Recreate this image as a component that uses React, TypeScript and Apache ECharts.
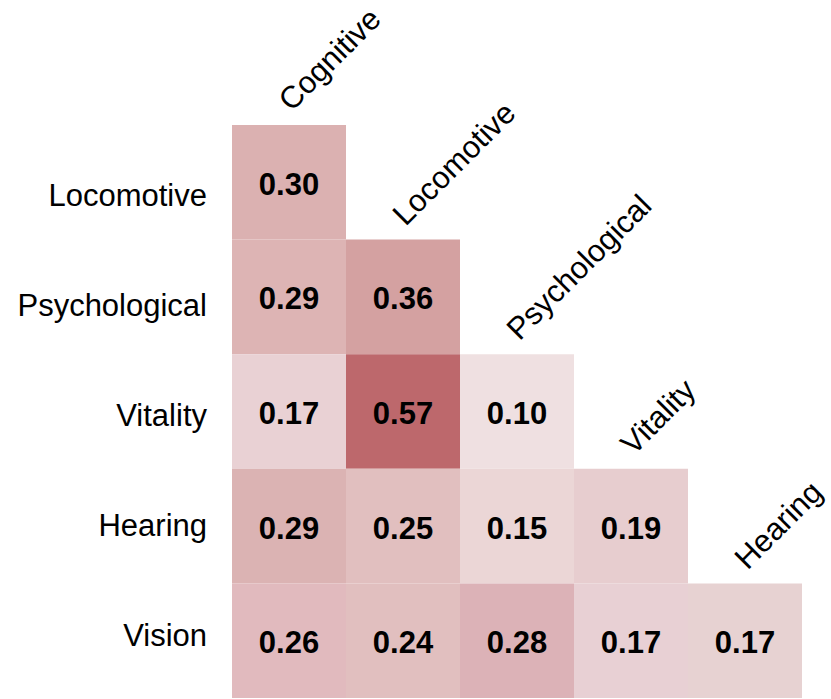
import React, { useEffect, useRef } from "react";
import * as echarts from "echarts";

const columns = ["Cognitive", "Locomotive", "Psychological", "Vitality", "Hearing"];
const rows = ["Locomotive", "Psychological", "Vitality", "Hearing", "Vision"];

const locomotiveRow = [0.3];
const psychologicalRow = [0.29, 0.36];
const vitalityRow = [0.17, 0.57, 0.1];
const hearingRow = [0.29, 0.25, 0.15, 0.19];
const visionRow = [0.26, 0.24, 0.28, 0.17, 0.17];
const rowValues = [locomotiveRow, psychologicalRow, vitalityRow, hearingRow, visionRow];

const cellColors = [
  ["#dbb1b1"],
  ["#ddb4b4", "#d4a1a1"],
  ["#e9d1d4", "#bd686c", "#efe0e1"],
  ["#dbb3b3", "#e1bfbf", "#ebd6d6", "#e7cdcf"],
  ["#e1babe", "#e1bfbf", "#dcb2b7", "#e8d0d4", "#e7d2d2"],
];

const FONT = '"Liberation Sans", Arial, Helvetica, sans-serif';

export default function App() {
  const ref = useRef<HTMLDivElement>(null);
  useEffect(() => {
    if (!ref.current) return;
    const chart = echarts.init(ref.current, null, { renderer: "svg" });
    const cellData: any[] = [];
    const cellFill: string[] = [];
    rowValues.forEach((vals, r) => {
      vals.forEach((v, c) => {
        cellData.push([c, r, v]);
        cellFill.push(cellColors[r][c]);
      });
    });
    const diagData = columns.map((_, j) => [j, j]);
    chart.setOption({
      animation: false,
      backgroundColor: "#ffffff",
      grid: [
        { left: 232, top: 125, width: 570, height: 573 },
        { left: 232, top: 140, width: 570, height: 551 },
      ],
      xAxis: [
        { type: "category", data: columns, gridIndex: 0, show: false },
        { type: "category", data: columns, gridIndex: 1, show: false },
      ],
      yAxis: [
        { type: "category", data: rows, gridIndex: 0, inverse: true, show: false },
        {
          type: "category",
          data: rows,
          gridIndex: 1,
          inverse: true,
          axisLine: { show: false },
          axisTick: { show: false },
          splitLine: { show: false },
          axisLabel: {
            margin: 25,
            color: "#000000",
            fontSize: 31,
            fontFamily: FONT,
          },
        },
      ],
      series: [
        {
          type: "custom",
          xAxisIndex: 0,
          yAxisIndex: 0,
          data: cellData,
          silent: true,
          renderItem: (params: any, api: any) => {
            const p = api.coord([api.value(0), api.value(1)]);
            const s = api.size([1, 1]);
            const v = api.value(2);
            return {
              type: "group",
              children: [
                {
                  type: "rect",
                  shape: { x: p[0] - s[0] / 2, y: p[1] - s[1] / 2, width: s[0], height: s[1] },
                  style: { fill: cellFill[params.dataIndex] },
                },
                {
                  type: "text",
                  x: p[0],
                  y: p[1] + 2,
                  style: {
                    text: v.toFixed(2),
                    fontSize: 31,
                    fontWeight: "bold",
                    fontFamily: FONT,
                    fill: "#000000",
                    textAlign: "center",
                    textVerticalAlign: "middle",
                  },
                },
              ],
            };
          },
        },
        {
          type: "custom",
          xAxisIndex: 0,
          yAxisIndex: 0,
          data: diagData,
          silent: true,
          renderItem: (params: any, api: any) => {
            const j = api.value(0);
            const p = api.coord([api.value(0), api.value(1)]);
            const s = api.size([1, 1]);
            const top = p[1] - s[1] / 2;
            return {
              type: "text",
              x: p[0] - 5,
              y: top - 20,
              rotation: Math.PI / 4,
              style: {
                text: columns[j],
                fontSize: 31,
                fontFamily: FONT,
                fill: "#000000",
                textAlign: "left",
                textVerticalAlign: "middle",
              },
            };
          },
        },
      ],
    });
    return () => chart.dispose();
  }, []);
  return (
    <div
      ref={ref}
      style={{ position: "absolute", left: 0, top: 0, width: 831, height: 699 }}
    />
  );
}
